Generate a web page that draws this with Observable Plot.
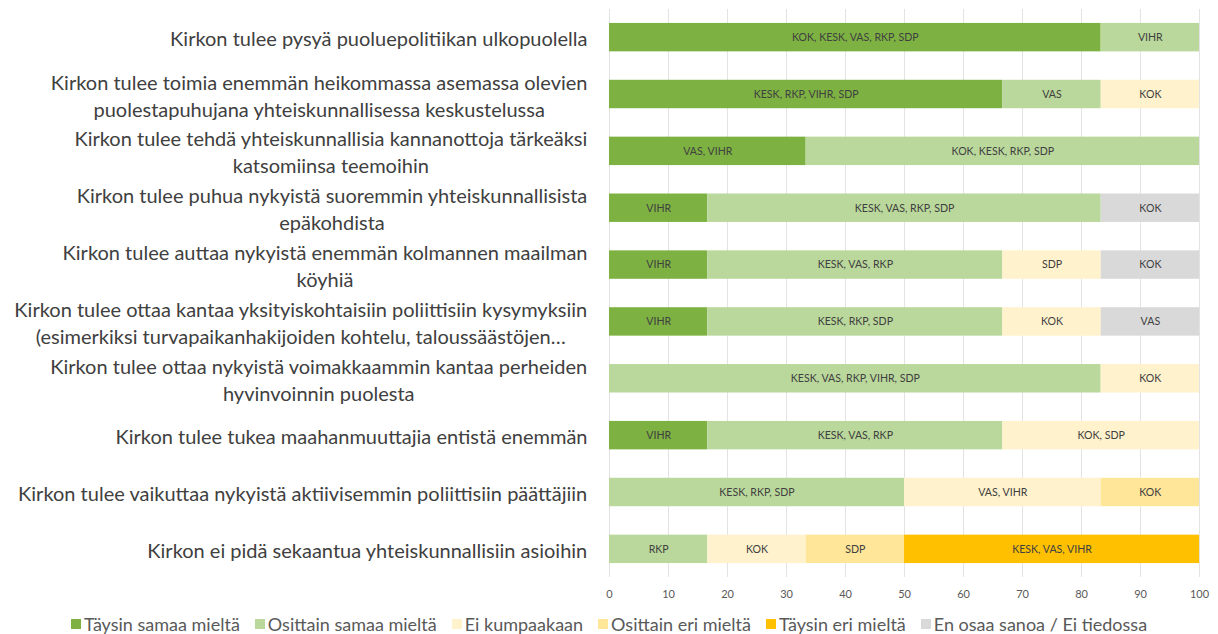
<!DOCTYPE html>
<html><head><meta charset="utf-8">
<script src="https://cdn.jsdelivr.net/npm/d3@7"></script>
<script src="https://cdn.jsdelivr.net/npm/@observablehq/plot@0.6"></script>
<style>
body{margin:0;background:#fff;font-family:Lato, "Open Sans", sans-serif;}
#legend{display:flex;justify-content:center;gap:15px;font-size:18px;color:#595959;margin-top:7px;}
#legend span.item{display:flex;align-items:center;}
.sw{display:inline-block;width:10px;height:10px;margin-right:3px;}
</style></head><body><div id="chart"></div><div id="legend"></div>
<script>
const questions = [
  "Kirkon tulee pysyä puoluepolitiikan ulkopuolella",
  "Kirkon tulee toimia enemmän heikommassa asemassa olevien\npuolestapuhujana yhteiskunnallisessa keskustelussa",
  "Kirkon tulee tehdä yhteiskunnallisia kannanottoja tärkeäksi\nkatsomiinsa teemoihin",
  "Kirkon tulee puhua nykyistä suoremmin yhteiskunnallisista\nepäkohdista",
  "Kirkon tulee auttaa nykyistä enemmän kolmannen maailman\nköyhiä",
  "Kirkon tulee ottaa kantaa yksityiskohtaisiin poliittisiin kysymyksiin\n(esimerkiksi turvapaikanhakijoiden kohtelu, taloussäästöjen…",
  "Kirkon tulee ottaa nykyistä voimakkaammin kantaa perheiden\nhyvinvoinnin puolesta",
  "Kirkon tulee tukea maahanmuuttajia entistä enemmän",
  "Kirkon tulee vaikuttaa nykyistä aktiivisemmin poliittisiin päättäjiin",
  "Kirkon ei pidä sekaantua yhteiskunnallisiin asioihin"
];
const levels = ["Täysin samaa mieltä", "Osittain samaa mieltä", "Ei kumpaakaan", "Osittain eri mieltä", "Täysin eri mieltä", "En osaa sanoa / Ei tiedossa"];
const levelColors = ["#7db243", "#bad89b", "#fff2cc", "#ffe699", "#ffc000", "#d9d9d9"];

// percentages per level, one value per question (in question order)
const taysinSamaa   = [83.33, 66.67, 33.33, 16.67, 16.67, 16.67, 0, 16.67, 0, 0];
const osittainSamaa = [16.67, 16.67, 66.67, 66.67, 50, 50, 83.33, 50, 50, 16.67];
const eiKumpaakaan  = [0, 16.67, 0, 0, 16.67, 16.67, 16.67, 33.33, 33.33, 16.67];
const osittainEri   = [0, 0, 0, 0, 0, 0, 0, 0, 16.67, 16.67];
const taysinEri     = [0, 0, 0, 0, 0, 0, 0, 0, 0, 50];
const enOsaa        = [0, 0, 0, 16.67, 16.67, 16.67, 0, 0, 0, 0];

// party labels per level
const taysinSamaaP   = ["KOK, KESK, VAS, RKP, SDP", "KESK, RKP, VIHR, SDP", "VAS, VIHR", "VIHR", "VIHR", "VIHR", "", "VIHR", "", ""];
const osittainSamaaP = ["VIHR", "VAS", "KOK, KESK, RKP, SDP", "KESK, VAS, RKP, SDP", "KESK, VAS, RKP", "KESK, RKP, SDP", "KESK, VAS, RKP, VIHR, SDP", "KESK, VAS, RKP", "KESK, RKP, SDP", "RKP"];
const eiKumpaakaanP  = ["", "KOK", "", "", "SDP", "KOK", "KOK", "KOK, SDP", "VAS, VIHR", "KOK"];
const osittainEriP   = ["", "", "", "", "", "", "", "", "KOK", "SDP"];
const taysinEriP     = ["", "", "", "", "", "", "", "", "", "KESK, VAS, VIHR"];
const enOsaaP        = ["", "", "", "KOK", "KOK", "VAS", "", "", "", ""];

const xTicks = [0, 10, 20, 30, 40, 50, 60, 70, 80, 90, 100];

const seriesValues = [taysinSamaa, osittainSamaa, eiKumpaakaan, osittainEri, taysinEri, enOsaa];
const seriesParties = [taysinSamaaP, osittainSamaaP, eiKumpaakaanP, osittainEriP, taysinEriP, enOsaaP];

const data = [];
questions.forEach((q, i) => {
  levels.forEach((lv, j) => {
    data.push({question: q, level: lv, value: seriesValues[j][i], parties: seriesParties[j][i]});
  });
});

const labelFont = 20;
const ctx = document.createElement("canvas").getContext("2d");
ctx.font = `${labelFont}px Lato`;
const marginLeft = 609;
const labelMarks = questions.map(q => {
  const w = d3.max(q.split("\n"), s => ctx.measureText(s).width);
  return Plot.text([q], {
    y: d => d, frameAnchor: "left", dx: -(22 + w / 2),
    textAnchor: "middle", lineAnchor: "middle", lineHeight: 1.35,
    fontSize: labelFont, fill: "#404040", text: d => d
  });
});

const chart = Plot.plot({
  width: 1218,
  height: 606,
  marginLeft: marginLeft,
  marginRight: 19,
  marginTop: 9,
  marginBottom: 29,
  style: {fontFamily: "Lato, 'Open Sans', sans-serif", background: "#fff"},
  x: {domain: [0, 100]},
  y: {domain: questions, paddingInner: 0.5, paddingOuter: 0.245, round: false},
  color: {domain: levels, range: levelColors},
  marks: [
    Plot.ruleX(xTicks, {stroke: "#e3e3e3", strokeWidth: 1}),
    Plot.barX(data, Plot.stackX({x: "value", y: "question", fill: "level", order: levels})),
    Plot.text(data.filter(d => d.value > 0), Plot.stackX({x: "value", y: "question", z: "level", order: levels, text: "parties", fontSize: 10.6, fill: "#404040"})),
    Plot.axisX({ticks: xTicks, tickSize: 0, tickPadding: 13, fontSize: 11, color: "#595959", label: null}),
    Plot.axisY({ticks: [], label: null, tickSize: 0, tickFormat: () => ""}),
    ...labelMarks
  ]
});
document.getElementById("chart").appendChild(chart);

const legend = document.getElementById("legend");
levels.forEach((lv, j) => {
  const item = document.createElement("span");
  item.className = "item";
  const sw = document.createElement("span");
  sw.className = "sw";
  sw.style.background = levelColors[j];
  item.appendChild(sw);
  item.appendChild(document.createTextNode(lv));
  legend.appendChild(item);
});
</script>
</body></html>
